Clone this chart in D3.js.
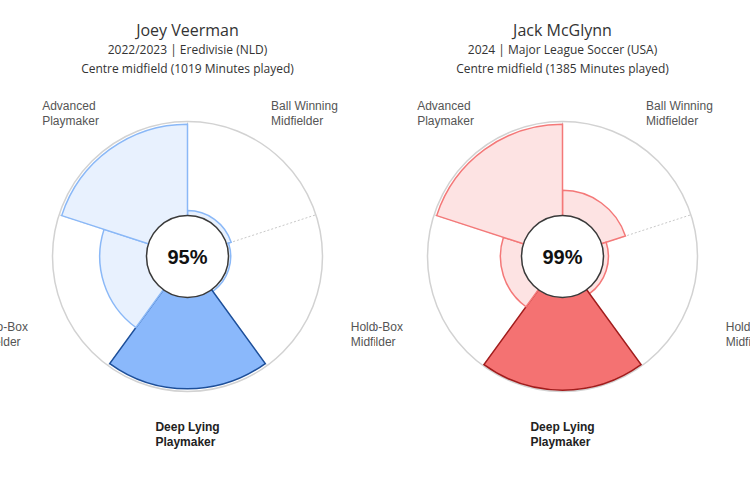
<!DOCTYPE html>
<html>
<head>
<meta charset="utf-8">
<script src="https://cdnjs.cloudflare.com/ajax/libs/d3/7.8.5/d3.min.js"></script>
<style>
body { margin: 0; background: #fff; }
#charts { display: flex; width: 750px; height: 484px; }
svg { display: block; overflow: hidden; }
</style>
</head>
<body>
<div id="charts"></div>
<script>
// role categories, clockwise from 12 o'clock
var categories = ["Ball Winning Midfielder", "Holding Midfielder", "Deep Lying Playmaker", "Box-to-Box Midfielder", "Advanced Playmaker"];
var players = ["Joey Veerman", "Jack McGlynn"];
var seasons = ["2022/2023 | Eredivisie (NLD)", "2024 | Major League Soccer (USA)"];
var positions = ["Centre midfield (1019 Minutes played)", "Centre midfield (1385 Minutes played)"];
var scores = [95, 99];
var veermanValues = [34, 32, 98, 65, 98];
var mcglynnValues = [49, 34, 99, 46, 98];
var bestRole = "Deep Lying Playmaker";

var palettes = [
    {light: "#e8f1fe", lightStroke: "#8ab8f7", fill: "#8ab8fb", stroke: "#1d4f9a"},
    {light: "#fde3e3", lightStroke: "#f47878", fill: "#f47272", stroke: "#a11c1c"}
];

var W = 375, H = 484, cx = 187.5, cy = 256.5, R = 135, hole = 41;

function drawPolar(k, values) {
    var pal = palettes[k];
    var svg = d3.select("#charts").append("svg")
        .attr("width", W).attr("height", H);

    // header
    var head = svg.append("g").attr("font-family", "'Open Sans', sans-serif")
        .attr("fill", "#333").attr("text-anchor", "middle");
    head.append("text").attr("x", cx).attr("y", 36).attr("font-size", 16).text(players[k]);
    head.append("text").attr("x", cx).attr("y", 54).attr("font-size", 12).text(seasons[k]);
    head.append("text").attr("x", cx).attr("y", 73).attr("font-size", 12).text(positions[k]);

    var ang = d3.scaleBand().domain(categories).range([0, 2 * Math.PI]).padding(0);
    var r = d3.scaleLinear().domain([0, 100]).range([0, R]);

    var data = categories.map(function(c, i) { return {cat: c, value: values[i]}; });

    var g = svg.append("g").attr("transform", "translate(" + cx + "," + cy + ")");

    g.append("circle").attr("r", r(100)).attr("fill", "none")
        .attr("stroke", "#d2d2d2").attr("stroke-width", 1.5);

    // dotted spokes at segment boundaries
    g.selectAll(".spoke").data(categories).enter().append("line")
        .attr("class", "spoke")
        .attr("x1", 0).attr("y1", 0)
        .attr("x2", function(c) { return r(100) * Math.sin(ang(c)); })
        .attr("y2", function(c) { return -r(100) * Math.cos(ang(c)); })
        .attr("stroke", "#c8c8c8").attr("stroke-width", 1).attr("stroke-dasharray", "2,2");

    var arc = d3.arc()
        .innerRadius(0)
        .outerRadius(function(d) { return r(d.value); })
        .startAngle(function(d) { return ang(d.cat); })
        .endAngle(function(d) { return ang(d.cat) + ang.bandwidth(); });

    g.selectAll(".seg").data(data).enter().append("path")
        .attr("class", "seg")
        .attr("d", arc)
        .attr("fill", function(d) { return d.cat == bestRole ? pal.fill : pal.light; })
        .attr("stroke", function(d) { return d.cat == bestRole ? pal.stroke : pal.lightStroke; })
        .attr("stroke-width", 1.5)
        .attr("stroke-linejoin", "miter");

    g.append("circle").attr("r", hole).attr("fill", "#fff")
        .attr("stroke", "#3a3a3a").attr("stroke-width", 1.5);
    g.append("text").attr("text-anchor", "middle").attr("dy", "0.35em")
        .attr("font-family", "'Liberation Sans', Arial, sans-serif")
        .attr("font-size", 20).attr("font-weight", "bold").attr("fill", "#111")
        .text(scores[k] + "%");

    // point labels, two lines each, laid out around the circle
    data.forEach(function(d) {
        var a = ang(d.cat) + ang.bandwidth() / 2;
        var sp = d.cat.lastIndexOf(" ");
        var lines = [d.cat.slice(0, sp), d.cat.slice(sp + 1)];
        var lab = g.append("text")
            .attr("font-family", "'Liberation Sans', Arial, sans-serif")
            .attr("font-size", 12)
            .attr("font-weight", d.cat == bestRole ? "bold" : "normal")
            .attr("fill", d.cat == bestRole ? "#222" : "#555");
        var ts = lines.map(function(l, j) {
            return lab.append("tspan").attr("dy", j ? 15 : 0).text(l);
        });
        var w = d3.max(ts, function(t) { return t.node().getComputedTextLength(); });
        var left, top;
        if (Math.abs(Math.sin(a)) < 0.2) {
            left = -w / 2;
            top = 163;
        } else {
            left = Math.sin(a) * 199 - w / 2;
            top = -Math.cos(a) * 197 + 16.7 - 15;
        }
        ts.forEach(function(t, j) { t.attr("x", left); });
        lab.attr("y", top + 11.5);
    });
}

drawPolar(0, veermanValues);
drawPolar(1, mcglynnValues);
</script>
</body>
</html>
